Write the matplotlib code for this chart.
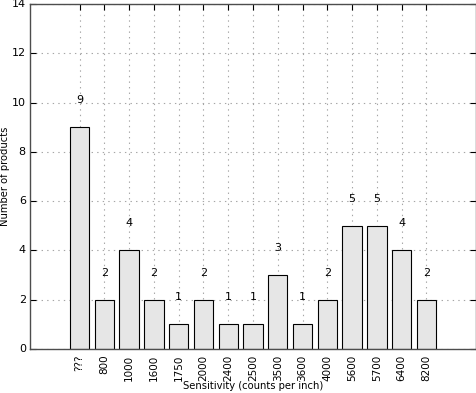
import matplotlib
matplotlib.use("Agg")
import matplotlib.pyplot as plt
import numpy as np

categories = ["???", "800", "1000", "1600", "1750", "2000", "2400", "2500",
              "3500", "3600", "4000", "5600", "5700", "6400", "8200"]
counts = [9, 2, 4, 2, 1, 2, 1, 1, 3, 1, 2, 5, 5, 4, 2]

plt.style.use("classic")
plt.rcParams["font.family"] = ["DejaVu Sans"]

fig = plt.figure(figsize=(4.77, 3.93), dpi=100)
ax = fig.add_axes([30/477, 44/393, 446/477, 345/393])

x = np.arange(len(categories))
ax.bar(x, counts, width=0.78, align="center", color="#e6e6e6",
       edgecolor="black", linewidth=0.8, zorder=2)
for xi, c in zip(x, counts):
    ax.text(xi, c + 1.1, str(c), ha="center", va="center", fontsize=8, zorder=3)

ax.set_xlim(-2, 16)
ax.set_ylim(0, 14)
ax.set_xticks(x)
ax.set_xticklabels(categories, rotation=90, fontsize=7.5)
ax.set_yticks(np.arange(0, 15, 2))
ax.tick_params(axis="y", labelsize=8, pad=3)
ax.tick_params(axis="x", pad=4)
ax.tick_params(direction="in", length=4, width=0.8, top=True, right=True)
ax.grid(True, linestyle=":", color="0.65", linewidth=0.8, zorder=0)
ax.set_axisbelow(True)
for s in ax.spines.values():
    s.set_color("0.3")
    s.set_linewidth(1.0)
ax.set_xlabel("Sensitivity (counts per inch)", fontsize=7.2)
ax.set_ylabel("Number of products", fontsize=7.2)
ax.xaxis.set_label_coords(0.5, -(386 - 349) / 345, transform=ax.transAxes)
ax.yaxis.set_label_coords(-(30 - 5) / 446, 0.5, transform=ax.transAxes)
ax.xaxis.label.set_va("center")
ax.yaxis.label.set_va("center")

fig.savefig("out.png", dpi=100)
